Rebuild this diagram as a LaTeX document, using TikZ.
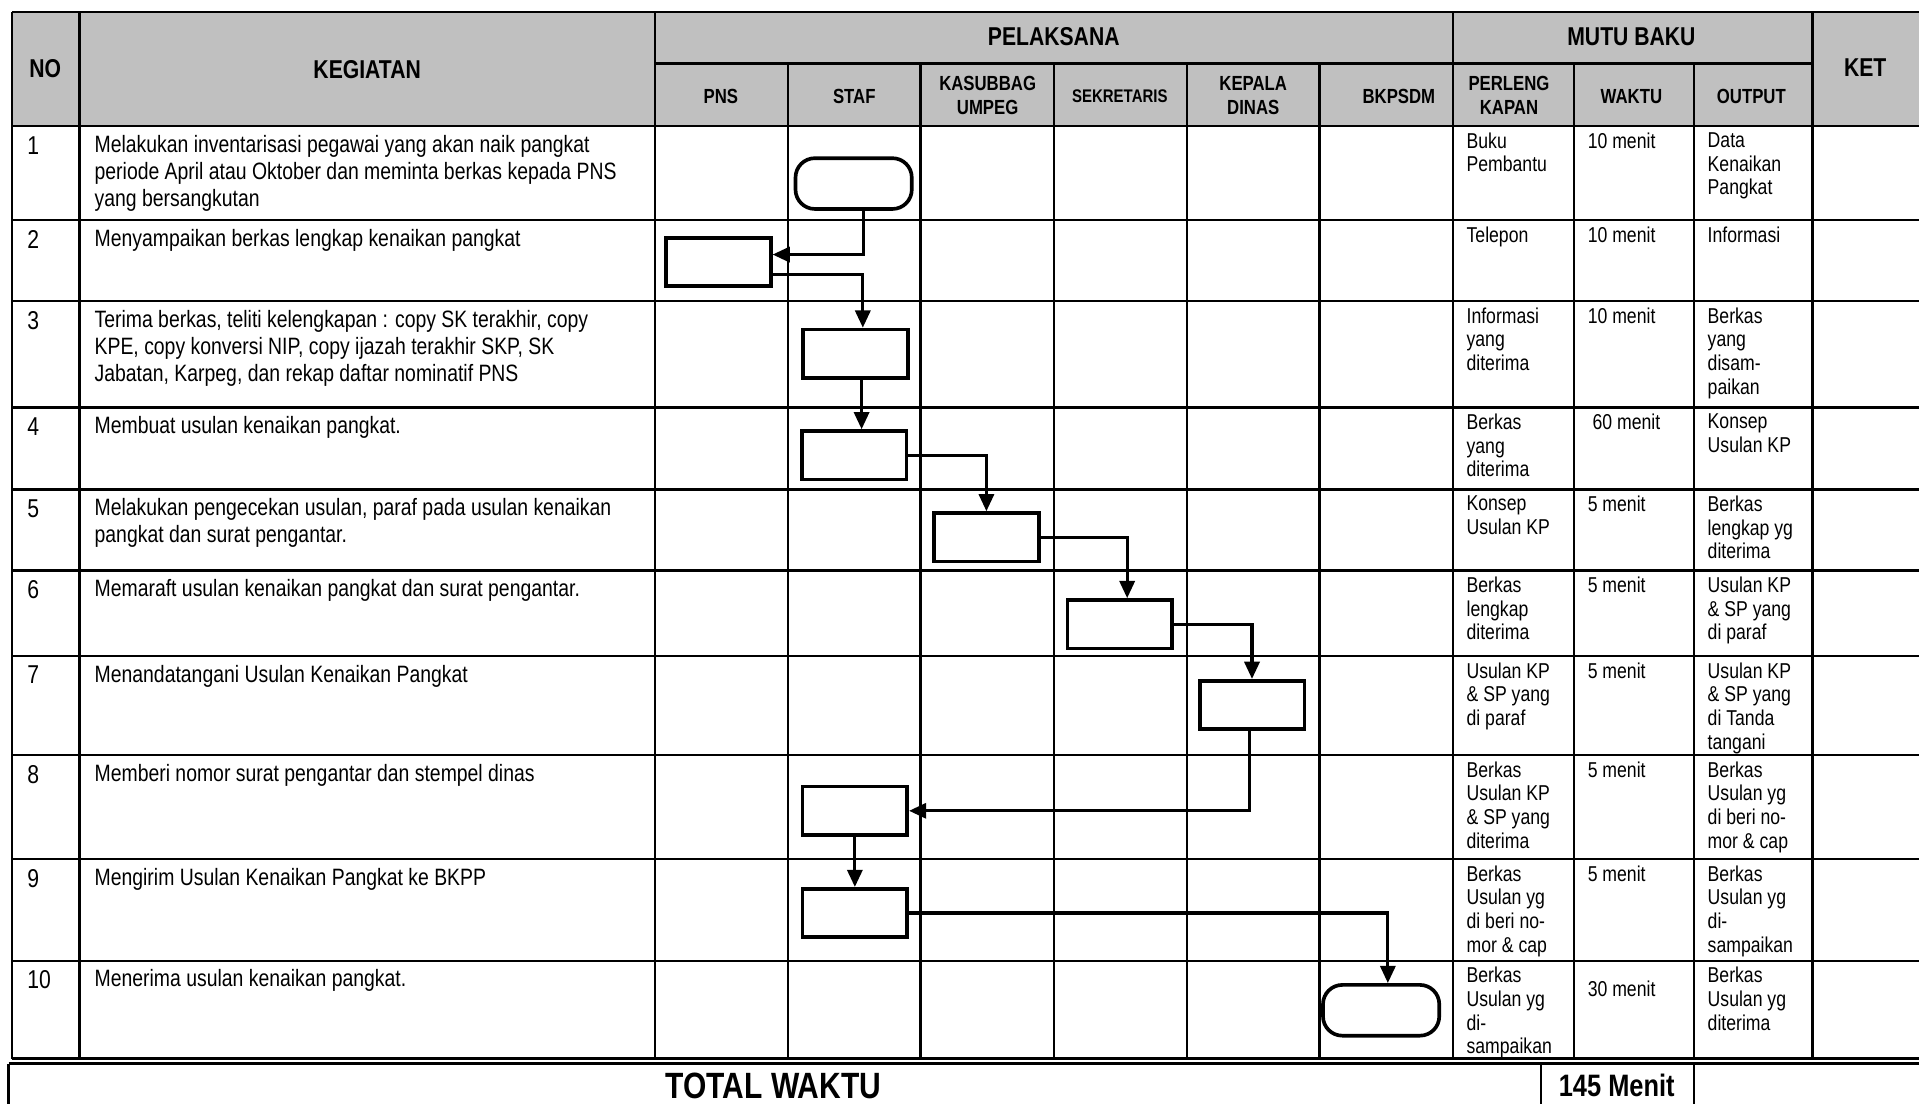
\documentclass[tikz,border=0pt]{standalone}
\usepackage{fontspec}
\setmainfont{Liberation Sans}[FakeStretch=0.82]
\usetikzlibrary{arrows.meta,calc}
\definecolor{abu}{HTML}{C0C0C0}
\begin{document}
\begin{tikzpicture}[x=0.2mm,y=-0.2mm,
	garis/.style={line width=1.1pt},
	proses/.style={draw,fill=white,line width=1.7pt,minimum width=17.1mm,minimum height=7.9mm,inner sep=0},
	terminal/.style={draw,fill=white,line width=1.7pt,rounded corners=9pt,minimum width=19mm,minimum height=8.3mm,inner sep=0},
	alur/.style={line width=1.5pt,-{Triangle[length=8pt,width=7pt]}},
	judul/.style={font=\bfseries\fontsize{12}{14}\selectfont},
	subjudul/.style={font=\bfseries\fontsize{9.5}{11.3}\selectfont,align=center},
	nomor/.style={anchor=north west,inner sep=0,font=\fontsize{12}{14}\selectfont},
	isi/.style={anchor=north west,inner sep=0,align=left,font=\fontsize{11}{12.65}\selectfont},
	mutu/.style={anchor=north west,inner sep=0,align=left,font=\fontsize{10}{11}\selectfont}]
	\clip (0,0) rectangle (1568,902);
	\fill[abu] (10,10) rectangle (1575,103);

	\draw[garis] (10,10) -- (1575,10);
	\draw[garis] (535,52) -- (1481,52);
	\draw[garis] (10,103) -- (1575,103);
	\draw[garis] (10,180) -- (1575,180);
	\draw[garis] (10,246) -- (1575,246);
	\draw[garis] (10,333) -- (1575,333);
	\draw[garis] (10,400) -- (1575,400);
	\draw[garis] (10,466) -- (1575,466);
	\draw[garis] (10,536) -- (1575,536);
	\draw[garis] (10,617) -- (1575,617);
	\draw[garis] (10,702) -- (1575,702);
	\draw[garis] (10,785) -- (1575,785);
	\draw[garis] (10,865) -- (1575,865);

	\draw[garis] (10,10) -- (10,865);
	\draw[garis] (65,10) -- (65,865);
	\draw[garis] (535,10) -- (535,865);
	\draw[garis] (1187,10) -- (1187,865);
	\draw[garis] (1481,10) -- (1481,865);
	\draw[garis] (644,52) -- (644,865);
	\draw[garis] (752,52) -- (752,865);
	\draw[garis] (861,52) -- (861,865);
	\draw[garis] (970,52) -- (970,865);
	\draw[garis] (1078,52) -- (1078,865);
	\draw[garis] (1286,52) -- (1286,865);
	\draw[garis] (1384,52) -- (1384,865);

	\draw[garis] (7,869) -- (1575,869);
	\draw[garis] (7,869) -- (7,910);
	\draw[garis] (1259,869) -- (1259,910);
	\draw[garis] (1384,869) -- (1384,910);

	\node[judul] (hno) at (37,56) {NO};
	\node[judul] (hkeg) at (300,57) {KEGIATAN};
	\node[judul] (hpel) at (861,30) {PELAKSANA};
	\node[judul] (hmutu) at (1333,30) {MUTU BAKU};
	\node[judul] (hket) at (1524,55) {KET};
	\node[subjudul] (hpns) at (589,79) {PNS};
	\node[subjudul] (hstaf) at (698,79) {STAF};
	\node[subjudul] (hkasub) at (807,78) {KASUBBAG\\UMPEG};
	\node[subjudul,font=\bfseries\fontsize{8.5}{10}\selectfont] (hsek) at (915,79) {SEKRETARIS};
	\node[subjudul] (hkadis) at (1024,78) {KEPALA\\DINAS};
	\node[subjudul] (hbkp) at (1143,79) {BKPSDM};
	\node[subjudul] (hperl) at (1233,78) {PERLENG\\KAPAN};
	\node[subjudul] (hwaktu) at (1333,79) {WAKTU};
	\node[subjudul] (hout) at (1431,79) {OUTPUT};

	\node[nomor] (no1) at (22,111) {1};
	\node[isi] (keg1) at (77,110) {Melakukan inventarisasi pegawai yang akan naik pangkat\\periode April atau Oktober dan meminta berkas kepada PNS\\yang bersangkutan};
	\node[mutu] (per1) at (1198,108) {Buku\\Pembantu};
	\node[mutu] (wak1) at (1297,108) {10 menit};
	\node[mutu] (out1) at (1395,108) {Data\\Kenaikan\\Pangkat};

	\node[nomor] (no2) at (22,188) {2};
	\node[isi] (keg2) at (77,187) {Menyampaikan berkas lengkap kenaikan pangkat};
	\node[mutu] (per2) at (1198,185) {Telepon};
	\node[mutu] (wak2) at (1297,185) {10 menit};
	\node[mutu] (out2) at (1395,185) {Informasi};

	\node[nomor] (no3) at (22,254) {3};
	\node[isi] (keg3) at (77,253) {Terima berkas, teliti kelengkapan : copy SK terakhir, copy\\KPE, copy konversi NIP, copy ijazah terakhir SKP, SK\\Jabatan, Karpeg, dan rekap daftar nominatif PNS};
	\node[mutu] (per3) at (1198,251) {Informasi\\yang\\diterima};
	\node[mutu] (wak3) at (1297,251) {10 menit};
	\node[mutu] (out3) at (1395,251) {Berkas\\yang\\disam-\\paikan};

	\node[nomor] (no4) at (22,341) {4};
	\node[isi] (keg4) at (77,340) {Membuat usulan kenaikan pangkat.};
	\node[mutu] (per4) at (1198,338) {Berkas\\yang\\diterima};
	\node[mutu] (wak4) at (1301,338) {60 menit};
	\node[mutu] (out4) at (1395,338) {Konsep\\Usulan KP};

	\node[nomor] (no5) at (22,408) {5};
	\node[isi] (keg5) at (77,407) {Melakukan pengecekan usulan, paraf pada usulan kenaikan\\pangkat dan surat pengantar.};
	\node[mutu] (per5) at (1198,405) {Konsep\\Usulan KP};
	\node[mutu] (wak5) at (1297,405) {5 menit};
	\node[mutu] (out5) at (1395,405) {Berkas\\lengkap yg\\diterima};

	\node[nomor] (no6) at (22,474) {6};
	\node[isi] (keg6) at (77,473) {Memaraft usulan kenaikan pangkat dan surat pengantar.};
	\node[mutu] (per6) at (1198,471) {Berkas\\lengkap\\diterima};
	\node[mutu] (wak6) at (1297,471) {5 menit};
	\node[mutu] (out6) at (1395,471) {Usulan KP\\\& SP yang\\di paraf};

	\node[nomor] (no7) at (22,544) {7};
	\node[isi] (keg7) at (77,543) {Menandatangani Usulan Kenaikan Pangkat};
	\node[mutu] (per7) at (1198,541) {Usulan KP\\\& SP yang\\di paraf};
	\node[mutu] (wak7) at (1297,541) {5 menit};
	\node[mutu] (out7) at (1395,541) {Usulan KP\\\& SP yang\\di Tanda\\tangani};

	\node[nomor] (no8) at (22,625) {8};
	\node[isi] (keg8) at (77,624) {Memberi nomor surat pengantar dan stempel dinas};
	\node[mutu] (per8) at (1198,622) {Berkas\\Usulan KP\\\& SP yang\\diterima};
	\node[mutu] (wak8) at (1297,622) {5 menit};
	\node[mutu] (out8) at (1395,622) {Berkas\\Usulan yg\\di beri no-\\mor \& cap};

	\node[nomor] (no9) at (22,710) {9};
	\node[isi] (keg9) at (77,709) {Mengirim Usulan Kenaikan Pangkat ke BKPP};
	\node[mutu] (per9) at (1198,707) {Berkas\\Usulan yg\\di beri no-\\mor \& cap};
	\node[mutu] (wak9) at (1297,707) {5 menit};
	\node[mutu] (out9) at (1395,707) {Berkas\\Usulan yg\\di-\\sampaikan};

	\node[nomor] (no10) at (22,793) {10};
	\node[isi] (keg10) at (77,792) {Menerima usulan kenaikan pangkat.};
	\node[mutu] (per10) at (1198,790) {Berkas\\Usulan yg\\di-\\sampaikan};
	\node[mutu] (wak10) at (1297,801) {30 menit};
	\node[mutu] (out10) at (1395,790) {Berkas\\Usulan yg\\diterima};

	\node[font=\bfseries\fontsize{17}{19}\selectfont] (ttotal) at (632,887) {TOTAL WAKTU};
	\node[font=\bfseries\fontsize{14.4}{16}\selectfont] (tmenit) at (1321,887) {145 Menit};

	\node[terminal] (t1) at (697.5,150) {};
	\node[proses] (b2) at (587,214) {};
	\node[proses] (b3) at (699,289) {};
	\node[proses] (b4) at (698,372) {};
	\node[proses] (b5) at (806,439) {};
	\node[proses] (b6) at (915,510) {};
	\node[proses] (b7) at (1023,576) {};
	\node[proses] (b8) at (698.5,662.5) {};
	\node[proses] (b9) at (698.5,746) {};
	\node[terminal] (t10) at (1128.5,825.5) {};

	\draw[alur] ($(t1.south)+(8,0)$) |- ($(b2.east)+(0,-6)$);
	\draw[alur] ($(b2.east)+(0,10)$) -| ($(b3.north)+(6,0)$);
	\draw[alur] ($(b3.south)+(5,0)$) -- ($(b4.north)+(6,0)$);
	\draw[alur] (b4.east) -| (b5.north);
	\draw[alur] (b5.east) -| ($(b6.north)+(6,0)$);
	\draw[alur] (b6.east) -| (b7.north);
	\draw[alur] ($(b7.south)+(-2,0)$) |- (b8.east);
	\draw[alur] (b8.south) -- (b9.north);
	\draw[alur] (b9.east) -| ($(t10.north)+(5.5,0)$);
\end{tikzpicture}
\end{document}
